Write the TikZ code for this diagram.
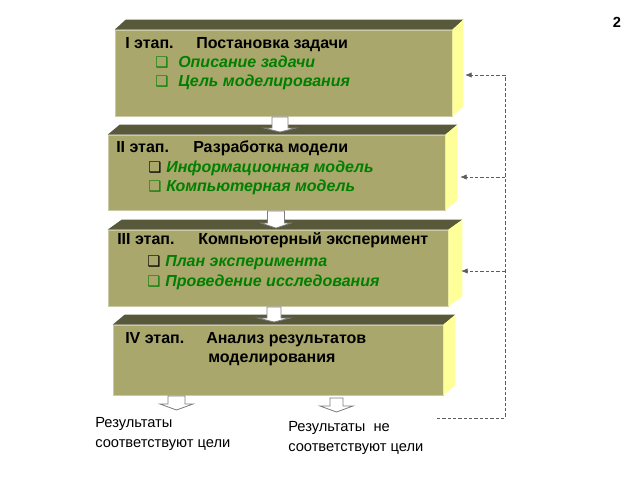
\documentclass[tikz,border=0pt]{standalone}
\usepackage{fontspec}
\setmainfont{Liberation Sans}
\newfontfamily\dingfont{DejaVu Sans}
\usetikzlibrary{arrows.meta, positioning, fit, calc}
\definecolor{Olive}{HTML}{A9A76B}
\definecolor{OliveTop}{HTML}{58583A}
\definecolor{Lemon}{HTML}{FFFF99}
\definecolor{Leaf}{HTML}{007F00}
\definecolor{Black70}{HTML}{5C5C5C}

\begin{document}
\begin{tikzpicture}[x=0.75pt, y=-0.75pt,
          front/.style={rectangle, draw=Olive!60!white, fill=Olive, line width=0.5pt, inner sep=0pt},
          topface/.style={fill=OliveTop},
          sideface/.style={fill=Lemon},
          head/.style={anchor=base west, inner sep=0pt, font=\fontsize{12}{14}\selectfont\bfseries},
          item/.style={anchor=base west, inner sep=0pt, text=Leaf, font=\fontsize{12}{14}\selectfont\bfseries\itshape},
          tick/.style={anchor=base west, inner sep=0pt, font=\dingfont\fontsize{11}{12}\selectfont},
          res/.style={anchor=north west, inner sep=0pt, align=left, font=\fontsize{11}{15}\selectfont},
          blk/.style={draw=Black70!80, fill=white, line width=0.6pt},
          fbline/.style={draw=Black70, line width=0.6pt, dash pattern=on 2.5pt off 1.5pt},
          fb/.style={fbline, -{Latex[length=5pt, width=4pt]}}
        ]
          \useasboundingbox (0,0) rectangle (640,480);
          % stages
          \node[front, fit={(115,30) (452,116)}] (b1) {};
          \node[front, fit={(108,135) (445,210)}] (b2) {};
          \node[front, fit={(108,230) (448,306)}] (b3) {};
          \node[front, fit={(113,325) (443,395)}] (b4) {};
          \foreach \b/\d in {b1/11, b2/12, b3/14, b4/12} {
            \fill[topface] (\b.north west) -- ++(\d,-10) -- ([shift={(\d,-10)}]\b.north east) -- (\b.north east) -- cycle;
            \fill[sideface] (\b.north east) -- ++(\d,-10) -- ([shift={(\d,-10)}]\b.south east) -- (\b.south east) -- cycle;
          }
          % block arrows
          \foreach \cx/\ty/\s/\h/\sl/\tl in {280/117/8/16/11/15, 276/211/8.5/15/12/17, 274/307/7/16/11/15,
                                            176.5/396/8.5/16.5/8/14, 336.5/398/6.5/16.5/8/14} {
            \draw[blk] ({\cx-\s},\ty) -- ({\cx-\s},{\ty+\sl}) -- ({\cx-\h},{\ty+\sl}) -- (\cx,{\ty+\tl})
              -- ({\cx+\h},{\ty+\sl}) -- ({\cx+\s},{\ty+\sl}) -- ({\cx+\s},\ty) -- cycle;
          }
          % texts
          \node[head] (h1a) at (125,48) {I этап.};
          \node[head] (h1b) at (196,48) {Постановка задачи};
          \node[tick, text=Leaf] (t11) at (155,67) {❑};
          \node[tick, text=Leaf] (t12) at (155,86) {❑};
          \node[item] (i11) at (178,67) {Описание задачи};
          \node[item] (i12) at (178,86) {Цель моделирования};

          \node[head] (h2a) at (116,152) {II этап.};
          \node[head] (h2b) at (193,152) {Разработка модели};
          \node[tick] (t21) at (148,172) {❑};
          \node[tick, text=Leaf] (t22) at (148,191) {❑};
          \node[item] (i21) at (166,172) {Информационная модель};
          \node[item] (i22) at (166,191) {Компьютерная модель};

          \node[head] (h3a) at (117,244) {III этап.};
          \node[head] (h3b) at (198,244) {Компьютерный эксперимент};
          \node[tick] (t31) at (147,266) {❑};
          \node[tick, text=Leaf] (t32) at (147,286) {❑};
          \node[item] (i31) at (165,266) {План эксперимента};
          \node[item] (i32) at (165,286) {Проведение исследования};

          \node[head] (h4a) at (125,343) {IV этап.};
          \node[head] (h4b) at (206,343) {Анализ результатов};
          \node[head] (h4c) at (208,362) {моделирования};

          \node[res] (r1) at (95,417) {Результаты\\соответствуют цели};
          \node[res] (r2) at (288,421) {Результаты~~не\\соответствуют цели};
          \node[font=\fontsize{11}{13}\selectfont\bfseries] (pg) at (617,22) {2};
          % feedback
          \coordinate (f0) at (437,418);
          \coordinate (f1) at (505,418);
          \coordinate (c1) at (505,75);
          \coordinate (c2) at (505,177);
          \coordinate (c3) at (505,271);
          \coordinate (s1) at (465,75);
          \coordinate (s2) at (460,177);
          \coordinate (s3) at (461,271);
          \draw[fbline] (f0) -- (f1) -- (c1);
          \draw[fb] (c1) -- (s1);
          \draw[fb] (c2) -- (s2);
          \draw[fb] (c3) -- (s3);
        \end{tikzpicture}
\end{document}
